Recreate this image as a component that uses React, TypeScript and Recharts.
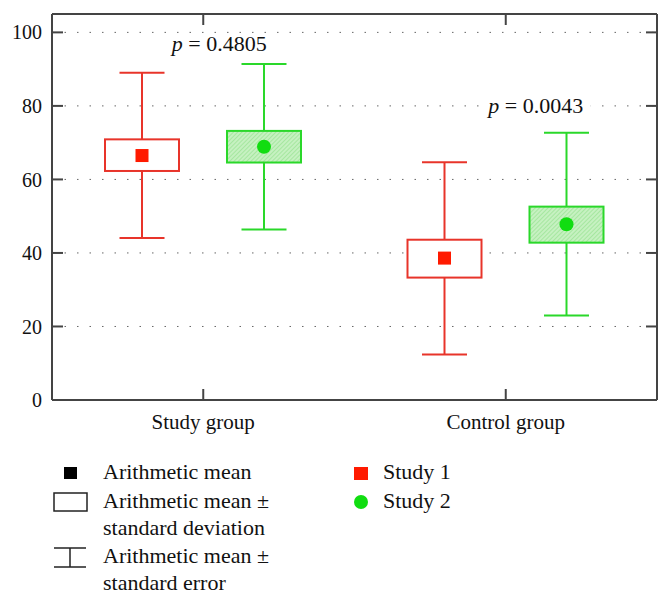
import React from "react";
import {
  ComposedChart,
  Bar,
  XAxis,
  YAxis,
  CartesianGrid,
  ReferenceDot,
} from "recharts";

const categories = ["Study group", "Control group"];

// Study 1 (red)
const study1Mean = [66.5, 38.6];
const study1BoxLow = [62.3, 33.3];
const study1BoxHigh = [70.9, 43.6];
const study1WhiskerLow = [44.1, 12.4];
const study1WhiskerHigh = [89.0, 64.7];

// Study 2 (green)
const study2Mean = [68.9, 47.8];
const study2BoxLow = [64.6, 42.8];
const study2BoxHigh = [73.2, 52.6];
const study2WhiskerLow = [46.4, 23.0];
const study2WhiskerHigh = [91.4, 72.7];

const yTicks = [0, 20, 40, 60, 80, 100];
const pValues = ["0.4805", "0.0043"];
const pLabelY = [97.1, 80.2];

const legendLeft = [
  ["Arithmetic mean"],
  ["Arithmetic mean \u00b1", "standard deviation"],
  ["Arithmetic mean \u00b1", "standard error"],
];
const legendRight = ["Study 1", "Study 2"];

const FONT = "'Liberation Serif', 'DejaVu Serif', serif";
const RED = "#e8342a";
const GREEN = "#2ad82a";

const data = categories.map((name, i) => ({
  name,
  s1: {
    mean: study1Mean[i],
    boxLow: study1BoxLow[i],
    boxHigh: study1BoxHigh[i],
    lo: study1WhiskerLow[i],
    hi: study1WhiskerHigh[i],
  },
  s2: {
    mean: study2Mean[i],
    boxLow: study2BoxLow[i],
    boxHigh: study2BoxHigh[i],
    lo: study2WhiskerLow[i],
    hi: study2WhiskerHigh[i],
  },
}));

function makeBoxShape(key: "s1" | "s2") {
  return (props: any) => {
    const { x, y, width, height, payload } = props;
    const d = payload[key];
    const top = Math.min(y, y + height);
    const h = Math.abs(height);
    const toPx = (v: number) => top + (h * (d.hi - v)) / (d.hi - d.lo);
    const cx = x + width / 2;
    const cap = 22.5;
    const bTop = toPx(d.boxHigh);
    const bBot = toPx(d.boxLow);
    const my = toPx(d.mean);
    const color = key === "s1" ? RED : GREEN;
    return (
      <g>
        <line x1={cx} x2={cx} y1={top} y2={bTop} stroke={color} strokeWidth={2} />
        <line x1={cx} x2={cx} y1={bBot} y2={top + h} stroke={color} strokeWidth={2} />
        <line x1={cx - cap} x2={cx + cap} y1={top} y2={top} stroke={color} strokeWidth={2} />
        <line x1={cx - cap} x2={cx + cap} y1={top + h} y2={top + h} stroke={color} strokeWidth={2} />
        <rect
          x={x}
          y={bTop}
          width={width}
          height={bBot - bTop}
          fill={key === "s1" ? "#fff" : "url(#hatch)"}
          stroke={color}
          strokeWidth={2}
        />
        {key === "s1" ? (
          <rect x={cx - 6.5} y={my - 6.5} width={13} height={13} fill="#ff1a00" />
        ) : (
          <circle cx={cx} cy={my} r={7} fill="#11dd11" />
        )}
      </g>
    );
  };
}

function pLabel(text: string, dx: number) {
  return ({ viewBox }: any) => {
    const cx = viewBox.x + dx;
    const cy = viewBox.y;
    return (
      <g>
        <rect x={cx - 55} y={cy - 10} width={110} height={20} fill="#fff" />
        <text
          x={cx}
          y={cy}
          textAnchor="middle"
          dominantBaseline="central"
          fontFamily={FONT}
          fontSize={22}
          fill="#111"
        >
          <tspan fontStyle="italic">p</tspan> = {text}
        </text>
      </g>
    );
  };
}

const axisStroke = { stroke: "#444", strokeWidth: 2 };
const tickFont = { fontFamily: FONT, fontSize: 20, fill: "#111" };
const emptyTick = () => <g />;

function Legend() {
  const txt = { fontFamily: FONT, fontSize: 22, fill: "#111" };
  return (
    <svg width={672} height={163} style={{ display: "block" }}>
      <rect x={64} y={27} width={13} height={12} fill="#000" />
      <text x={103} y={39} {...txt}>{legendLeft[0][0]}</text>
      <rect x={54} y={53} width={33} height={18} fill="none" stroke="#222" strokeWidth={1.5} />
      <text x={103} y={68} {...txt}>{legendLeft[1][0]}</text>
      <text x={103} y={95} {...txt}>{legendLeft[1][1]}</text>
      <line x1={54} x2={86} y1={108} y2={108} stroke="#222" strokeWidth={1.5} />
      <line x1={70} x2={70} y1={108} y2={127} stroke="#222" strokeWidth={1.5} />
      <line x1={54} x2={86} y1={127} y2={127} stroke="#222" strokeWidth={1.5} />
      <text x={103} y={123} {...txt}>{legendLeft[2][0]}</text>
      <text x={103} y={150} {...txt}>{legendLeft[2][1]}</text>
      <rect x={354} y={27} width={14} height={13} fill="#ff1a00" />
      <text x={383} y={39} {...txt}>{legendRight[0]}</text>
      <circle cx={361} cy={62} r={7} fill="#11dd11" />
      <text x={383} y={68} {...txt}>{legendRight[1]}</text>
    </svg>
  );
}

export default function App() {
  return (
    <div style={{ position: "absolute", left: 0, top: 0, width: 672, height: 603, background: "#fff" }}>
      <ComposedChart
        width={672}
        height={440}
        data={data}
        margin={{ top: 13, right: 0, bottom: 0, left: 0 }}
        barGap={48}
        barSize={74}
      >
        <defs>
          <pattern id="hatch" width="3" height="3" patternUnits="userSpaceOnUse" patternTransform="rotate(45)">
            <rect width="3" height="3" fill="#c6f1c1" />
            <line x1="0" y1="0" x2="0" y2="3" stroke="#86dd80" strokeWidth="1" />
          </pattern>
        </defs>
        <CartesianGrid vertical={false} strokeDasharray="1.5 11" stroke="#666" yAxisId="left" />
        <XAxis
          dataKey="name"
          xAxisId="bottom"
          height={40}
          axisLine={axisStroke}
          tickLine={axisStroke}
          tickSize={-11}
          tickMargin={25}
          tick={{ fontFamily: FONT, fontSize: 21, fill: "#111" }}
          interval={0}
        />
        <XAxis
          dataKey="name"
          xAxisId="top"
          orientation="top"
          height={1}
          axisLine={axisStroke}
          tickLine={axisStroke}
          tickSize={-11}
          tick={emptyTick}
          interval={0}
        />
        <YAxis
          yAxisId="left"
          width={52}
          domain={[0, 105]}
          ticks={yTicks}
          axisLine={axisStroke}
          tickLine={axisStroke}
          tickSize={-11}
          tickMargin={21}
          tick={tickFont}
          allowDataOverflow
        />
        <YAxis
          yAxisId="right"
          orientation="right"
          width={15}
          domain={[0, 105]}
          ticks={yTicks}
          axisLine={axisStroke}
          tickLine={axisStroke}
          tickSize={-11}
          tick={emptyTick}
          allowDataOverflow
        />
        <Bar
          xAxisId="bottom"
          yAxisId="left"
          dataKey={(d: any) => [d.s1.lo, d.s1.hi]}
          shape={makeBoxShape("s1")}
          isAnimationActive={false}
        />
        <Bar
          xAxisId="bottom"
          yAxisId="left"
          dataKey={(d: any) => [d.s2.lo, d.s2.hi]}
          shape={makeBoxShape("s2")}
          isAnimationActive={false}
        />
        <ReferenceDot
          xAxisId="bottom"
          yAxisId="left"
          x={categories[0]}
          y={pLabelY[0]}
          r={0}
          label={{ content: pLabel(pValues[0], 16) }}
        />
        <ReferenceDot
          xAxisId="bottom"
          yAxisId="left"
          x={categories[1]}
          y={pLabelY[1]}
          r={0}
          label={{ content: pLabel(pValues[1], 30) }}
        />
      </ComposedChart>
      <Legend />
    </div>
  );
}
